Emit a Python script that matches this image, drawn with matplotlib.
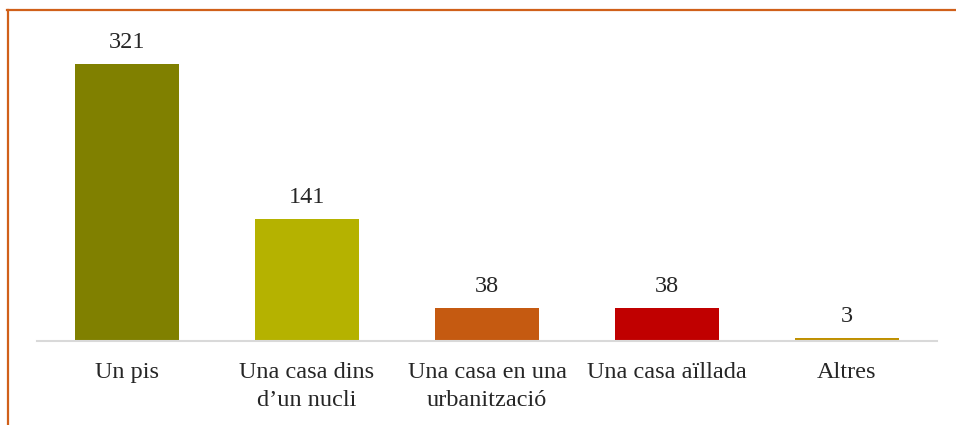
import matplotlib
matplotlib.use("Agg")
import matplotlib.pyplot as plt
from matplotlib.lines import Line2D

categories = ["Un pis", "Una casa dins\nd\u2019un nucli", "Una casa en una\nurbanització",
              "Una casa aïllada", "Altres"]
values = [321, 141, 38, 38, 3]
colors = ["#808000", "#B5B200", "#C55A11", "#C00000", "#BF9000"]

plt.rcParams['font.family'] = ['Liberation Serif', 'DejaVu Serif']

fig = plt.figure(figsize=(9.56, 4.25), dpi=100)
ax = fig.add_axes([37/956, (425-341)/425, 900/956, (341-30)/425])

x = range(len(categories))
bars = ax.bar(x, values, width=0.58, color=colors, zorder=2)
ax.set_xlim(-0.5, 4.5)
ax.set_ylim(0, 360)

for xi, v in zip(x, values):
    ax.annotate(str(v), (xi, v), xytext=(0, 8), textcoords="offset points",
                ha="center", va="bottom", fontsize=17.5, color="#262626")

ax.set_xticks(list(x))
ax.set_xticklabels(categories, fontsize=17.5, color="#262626", linespacing=1.42, va="top")
ax.tick_params(axis="x", length=0, pad=15)
ax.set_yticks([])
for s in ["top", "left", "right"]:
    ax.spines[s].set_visible(False)
ax.spines["bottom"].set_color("#D9D9D9")
ax.spines["bottom"].set_linewidth(1.5)

# outer orange frame (top and left edges)
fig.add_artist(Line2D([7/956, 1.0], [1 - 10/425, 1 - 10/425], color="#D0601A", lw=1.6,
                      transform=fig.transFigure))
fig.add_artist(Line2D([8/956, 8/956], [0, 1 - 10/425], color="#D0601A", lw=1.6,
                      transform=fig.transFigure))

fig.savefig("out.png", dpi=100)
